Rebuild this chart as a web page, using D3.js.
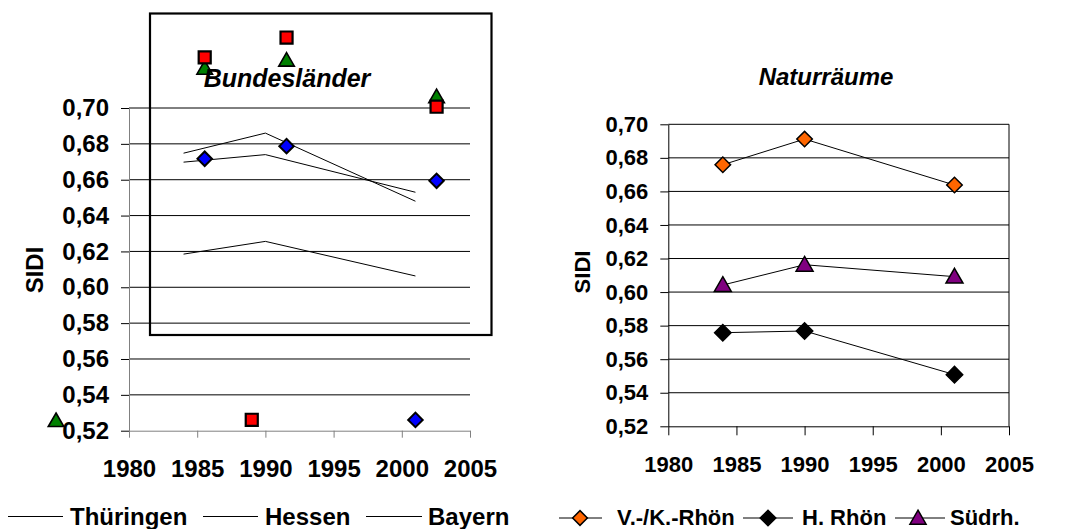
<!DOCTYPE html>
<html>
<head>
<meta charset="utf-8">
<script src="https://cdn.jsdelivr.net/npm/d3@7"></script>
<style>
  body { margin: 0; background: #fff; }
  svg { font-family: Arial, "Liberation Sans", sans-serif; font-weight: bold; }
</style>
</head>
<body>
<div id="chart-area"></div>
<script>
// --- Bundesländer (links) ---
const blYears = [1984, 1990, 2001];
const thueringen = [0.6185, 0.6256, 0.6063];
const hessen = [0.6748, 0.686, 0.648];
const bayern = [0.6698, 0.674, 0.653];

// Punktmarker so wie sie im Bild liegen
const blueYears = [1985.55, 1991.55, 2002.55, 2001];
const blueVals = [0.6717, 0.6787, 0.6594, 0.526];
const redYears = [1985.55, 1991.55, 2002.55, 1989];
const redVals = [0.7282, 0.7393, 0.7007, 0.5261];
const greenYears = [1985.55, 1991.55, 2002.55, 1974.65];
const greenVals = [0.7222, 0.7267, 0.7063, 0.5257];

// --- Naturräume (rechts) ---
const nrYears = [1984, 1990, 2001];
const vkRhoen = [0.6759, 0.6912, 0.6638];
const hRhoen = [0.5758, 0.5768, 0.5508];
const suedrh = [0.6042, 0.6163, 0.6092];

const yTicks = [0.52, 0.54, 0.56, 0.58, 0.60, 0.62, 0.64, 0.66, 0.68, 0.70];
const xTicks = [1980, 1985, 1990, 1995, 2000, 2005];
const fmt = d => d3.format(".2f")(d).replace(".", ",");

const width = 1082;
const height = 529;

const svg = d3.select("#chart-area")
    .append("svg")
    .attr("width", width)
    .attr("height", height);

// diamond = square turned by 45 degrees
function marker(g, type, size, fill, x, y, sw) {
    const isDiamond = type === "diamond";
    const sym = d3.symbol().type(isDiamond ? d3.symbolSquare : type).size(size);
    g.append("path")
        .attr("d", sym())
        .attr("transform", `translate(${x},${y})` + (isDiamond ? " rotate(45)" : ""))
        .attr("fill", fill)
        .attr("stroke", "#000")
        .attr("stroke-width", sw)
        .attr("stroke-linejoin", "miter");
}

// ================= left chart =================
const xL = d3.scaleLinear().domain([1980, 2005]).range([129, 470]);
const yL = d3.scaleLinear().domain([0.52, 0.70]).range([430.7, 108]);

const left = svg.append("g");

// gridlines
left.selectAll(".gridL")
    .data(yTicks.slice(1))
    .enter()
    .append("line")
    .attr("x1", xL(1980))
    .attr("x2", xL(2005))
    .attr("y1", d => yL(d))
    .attr("y2", d => yL(d))
    .attr("stroke", "#000")
    .attr("stroke-width", 1);

const yAxisL = left.append("g")
    .attr("transform", `translate(${xL(1980)},0)`)
    .call(d3.axisLeft(yL).tickValues(yTicks).tickFormat(fmt).tickSize(8).tickPadding(12).tickSizeOuter(0));
yAxisL.selectAll("text").attr("font-size", 24).attr("font-family", "Arial, 'Liberation Sans'").attr("font-weight", "bold").attr("fill", "#000");
yAxisL.select(".domain").attr("stroke", "#808080");
yAxisL.selectAll(".tick line").attr("stroke", "#000");

const xAxisL = left.append("g")
    .attr("transform", `translate(0,${yL(0.52)})`)
    .call(d3.axisBottom(xL).tickValues(xTicks).tickFormat(d3.format("d")).tickSize(7).tickPadding(22).tickSizeOuter(0));
xAxisL.selectAll("text").attr("font-size", 24).attr("font-family", "Arial, 'Liberation Sans'").attr("font-weight", "bold").attr("fill", "#000");
xAxisL.select(".domain").attr("stroke", "#808080");
xAxisL.selectAll(".tick line").attr("stroke", "#808080");

left.append("text")
    .attr("transform", "translate(43,270) rotate(-90)")
    .attr("text-anchor", "middle")
    .attr("font-size", 24)
    .text("SIDI");

const lineL = d3.line()
    .x((d, i) => xL(blYears[i]))
    .y(d => yL(d));

[thueringen, hessen, bayern].forEach(s => {
    left.append("path")
        .attr("d", lineL(s))
        .attr("fill", "none")
        .attr("stroke", "#000")
        .attr("stroke-width", 1);
});

// box
left.append("rect")
    .attr("x", 150)
    .attr("y", 13.5)
    .attr("width", 341.5)
    .attr("height", 321.5)
    .attr("fill", "none")
    .attr("stroke", "#000")
    .attr("stroke-width", 2.2);

// markers
greenYears.forEach((yr, i) => marker(left, d3.symbolTriangle, 105, "#008000", xL(yr), yL(greenVals[i]) + 1.5, 1.6));
redYears.forEach((yr, i) => marker(left, d3.symbolSquare, 145, "#ff0000", xL(yr), yL(redVals[i]), 2.2));
blueYears.forEach((yr, i) => marker(left, "diamond", 105, "#0000ff", xL(yr), yL(blueVals[i]), 2));

left.append("text")
    .attr("x", 287)
    .attr("y", 87)
    .attr("text-anchor", "middle")
    .attr("font-size", 25)
    .attr("font-style", "italic")
    .text("Bundesländer");

// legend
const legL = [["Thüringen", 8, 63, 70], ["Hessen", 203, 258, 265], ["Bayern", 366, 422, 428]];
legL.forEach(d => {
    left.append("line")
        .attr("x1", d[1]).attr("x2", d[2])
        .attr("y1", 516.5).attr("y2", 516.5)
        .attr("stroke", "#000").attr("stroke-width", 1);
    left.append("text")
        .attr("x", d[3]).attr("y", 524.5)
        .attr("font-size", 24)
        .text(d[0]);
});

// ================= right chart =================
const xR = d3.scaleLinear().domain([1980, 2005]).range([668.3, 1009]);
const yR = d3.scaleLinear().domain([0.52, 0.70]).range([426.3, 124.3]);

const right = svg.append("g");

right.selectAll(".gridR")
    .data(yTicks.slice(1))
    .enter()
    .append("line")
    .attr("x1", xR(1980))
    .attr("x2", xR(2005))
    .attr("y1", d => yR(d))
    .attr("y2", d => yR(d))
    .attr("stroke", "#000")
    .attr("stroke-width", 1);

right.append("line")
    .attr("x1", xR(2005)).attr("x2", xR(2005))
    .attr("y1", yR(0.70)).attr("y2", yR(0.52))
    .attr("stroke", "#000");

const yAxisR = right.append("g")
    .attr("transform", `translate(${xR(1980)},0)`)
    .call(d3.axisLeft(yR).tickValues(yTicks).tickFormat(fmt).tickSize(8).tickPadding(12).tickSizeOuter(0));
yAxisR.selectAll("text").attr("font-size", 22).attr("font-family", "Arial, 'Liberation Sans'").attr("font-weight", "bold").attr("fill", "#000");

const xAxisR = right.append("g")
    .attr("transform", `translate(0,${yR(0.52)})`)
    .call(d3.axisBottom(xR).tickValues(xTicks).tickFormat(d3.format("d")).tickSize(9).tickPadding(21).tickSizeOuter(0));
xAxisR.selectAll("text").attr("font-size", 22).attr("font-family", "Arial, 'Liberation Sans'").attr("font-weight", "bold").attr("fill", "#000");

right.append("text")
    .attr("transform", "translate(590,272) rotate(-90)")
    .attr("text-anchor", "middle")
    .attr("font-size", 22)
    .text("SIDI");

right.append("text")
    .attr("x", 826)
    .attr("y", 85)
    .attr("text-anchor", "middle")
    .attr("font-size", 24)
    .attr("font-style", "italic")
    .text("Naturräume");

const lineR = d3.line()
    .x((d, i) => xR(nrYears[i]))
    .y(d => yR(d));

const seriesR = [
    { vals: vkRhoen, type: "diamond", fill: "#ff6600", size: 120 },
    { vals: hRhoen, type: "diamond", fill: "#000000", size: 135 },
    { vals: suedrh, type: d3.symbolTriangle, fill: "#800080", size: 125 }
];

seriesR.forEach(s => {
    right.append("path")
        .attr("d", lineR(s.vals))
        .attr("fill", "none")
        .attr("stroke", "#000")
        .attr("stroke-width", 1);
    s.vals.forEach((v, i) => marker(right, s.type, s.size, s.fill, xR(nrYears[i]), yR(v) + (s.type === "diamond" ? 0 : 1.5), 1.5));
});

const legR = [["V.-/K.-Rhön", 559, 602, 580, 617], ["H. Rhön", 743, 793, 768, 802], ["Südrh.", 895, 945, 918, 950]];
legR.forEach((d, i) => {
    right.append("line")
        .attr("x1", d[1]).attr("x2", d[2])
        .attr("y1", 518).attr("y2", 518)
        .attr("stroke", "#000").attr("stroke-width", 1);
    marker(right, seriesR[i].type, seriesR[i].size * 0.9, seriesR[i].fill, d[3], 518 + (i === 2 ? 1.5 : 0), 1.5);
    right.append("text")
        .attr("x", d[4]).attr("y", 525)
        .attr("font-size", 22)
        .text(d[0]);
});
</script>
</body>
</html>
